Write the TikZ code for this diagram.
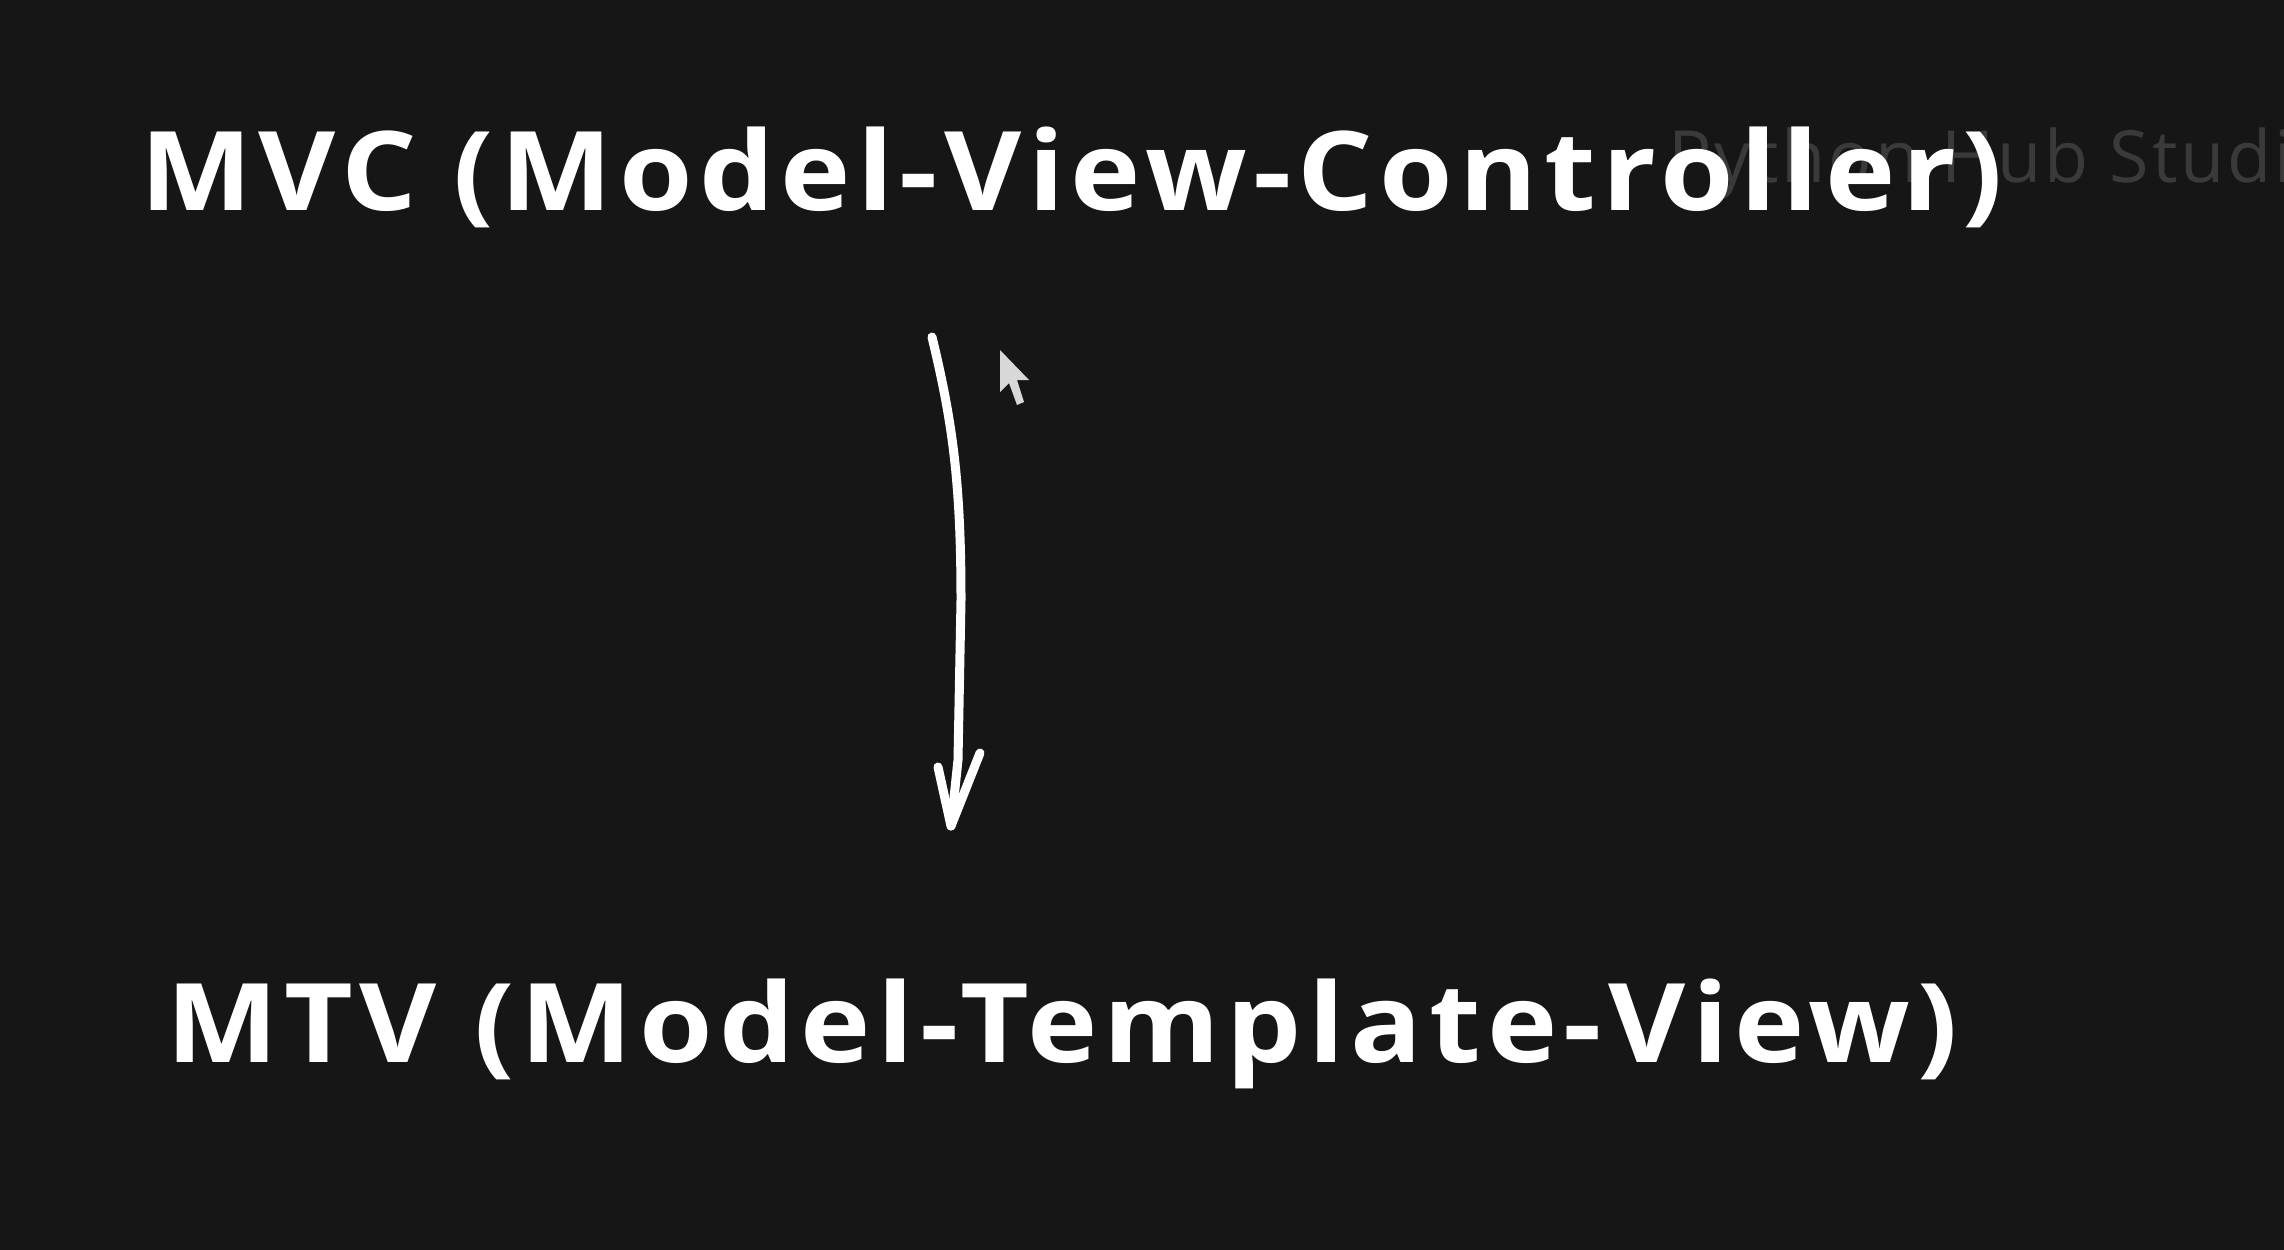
\documentclass[tikz,border=0pt]{standalone}
\usepackage{graphicx}
\usepackage{fontspec}
\setmainfont{Open Sans}
\definecolor{bg}{HTML}{161616}
\definecolor{wm}{HTML}{3A3A3A}
\definecolor{cur}{HTML}{D8D8D8}
\newcommand{\widetitle}[1]{\scalebox{1.08}[1]{#1}}
\tikzset{
  title/.style={anchor=base west, inner sep=0pt, text=white, font=\fontsize{110pt}{120pt}\selectfont\bfseries\addfontfeatures{LetterSpace=5.4}},
  mark text/.style={anchor=base west, inner sep=0pt, text=wm, font=\fontsize{72pt}{80pt}\selectfont\addfontfeatures{LetterSpace=4}},
  pen/.style={draw=white, line width=9pt, line cap=round, line join=round}
}
\begin{document}
\begin{tikzpicture}[x=1pt,y=-1pt]
\fill[bg] (0,0) rectangle (2284,1250);
\useasboundingbox (0,0) rectangle (2284,1250);
\clip (0,0) rectangle (2284,1250);
\node[mark text] (wmk) at (1668,182) {Python Hub Studio};
\node[title] (mvc) at (140,210) {\widetitle{MVC (Model-View-Controller)}};
\node[title] (mtv) at (166,1062) {\widetitle{MTV (Model-Template-View)}};
\coordinate (s) at (932,337);
\coordinate (e) at (951,826);
\coordinate (hl) at (938,767);
\coordinate (hr) at (980,753);
\draw[pen] (s) .. controls (952,420) and (961,480) .. (961,600) -- (958,760) -- (e);
\draw[pen] (hl) -- (e) -- (hr);
\fill[cur] (1000,350) -- (1000,392) -- (1009,383) -- (1017,405) -- (1024,402) -- (1017,380) -- (1029,380) -- cycle;
\end{tikzpicture}
\end{document}
